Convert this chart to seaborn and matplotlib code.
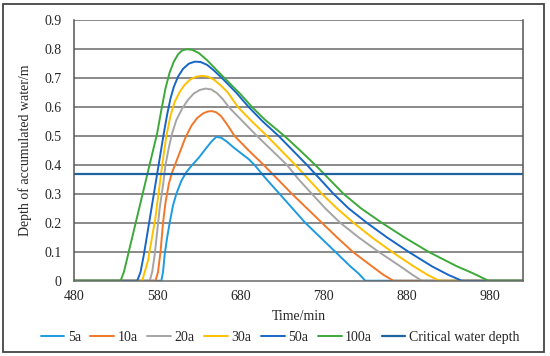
import pandas as pd
import seaborn as sns
import matplotlib.pyplot as plt
from matplotlib.patches import Rectangle

# (time/min, depth/m) for each return period
t_5a = [480, 585, 587, 589, 592, 595, 599, 603, 609, 615, 622, 630, 638, 645, 651, 657, 664, 672, 681, 690,
        697, 710, 724, 741, 758, 776, 794, 812, 822, 830, 1020]
d_5a = [0, 0, 0.03, 0.09, 0.15, 0.20, 0.26, 0.30, 0.345, 0.375, 0.40, 0.425, 0.455, 0.48, 0.497, 0.494, 0.48,
        0.46, 0.44, 0.42, 0.40, 0.355, 0.31, 0.255, 0.20, 0.15, 0.10, 0.05, 0.025, 0, 0]

t_10a = [480, 578, 581, 584, 587, 590, 594, 598, 602, 608, 614, 621, 628, 635, 641, 646, 651, 657, 664, 673,
         690, 708, 725, 742, 760, 778, 796, 815, 838, 852, 864, 1020]
d_10a = [0, 0, 0.03, 0.10, 0.20, 0.27, 0.335, 0.375, 0.405, 0.45, 0.495, 0.535, 0.562, 0.578, 0.585, 0.586,
         0.582, 0.568, 0.54, 0.50, 0.45, 0.40, 0.35, 0.30, 0.25, 0.20, 0.15, 0.10, 0.05, 0.02, 0, 0]

t_20a = [480, 571, 574, 577, 580, 583, 587, 590, 594, 598, 603, 610, 617, 624, 631, 638, 645, 652, 659, 666,
         683, 700, 718, 736, 750, 766, 782, 800, 822, 846, 872, 887, 898, 1020]
d_20a = [0, 0, 0.03, 0.09, 0.17, 0.25, 0.33, 0.40, 0.46, 0.51, 0.555, 0.595, 0.625, 0.647, 0.659, 0.664,
         0.661, 0.648, 0.627, 0.60, 0.55, 0.50, 0.45, 0.40, 0.35, 0.30, 0.25, 0.20, 0.15, 0.10, 0.05, 0.02, 0, 0]

t_30a = [480, 562, 566, 569, 572, 575, 578, 582, 586, 591, 596, 601, 607, 613, 620, 627, 634, 641, 648, 656,
         665, 677, 694, 712, 729, 746, 762, 778, 796, 816, 838, 862, 888, 905, 919, 1020]
d_30a = [0, 0, 0.04, 0.07, 0.12, 0.17, 0.22, 0.31, 0.40, 0.50, 0.57, 0.618, 0.652, 0.677, 0.696, 0.705,
         0.708, 0.705, 0.695, 0.676, 0.65, 0.60, 0.55, 0.50, 0.45, 0.40, 0.35, 0.30, 0.25, 0.20, 0.15, 0.10,
         0.05, 0.02, 0, 0]

t_50a = [480, 556, 560, 564, 568, 572, 576, 580, 584, 588, 592, 596, 600, 605, 611, 618, 625, 632, 640, 648,
         658, 675, 690, 707, 726, 743, 760, 776, 792, 810, 832, 856, 882, 910, 930, 946, 1020]
d_50a = [0, 0, 0.03, 0.09, 0.16, 0.23, 0.30, 0.37, 0.44, 0.51, 0.575, 0.63, 0.67, 0.705, 0.732, 0.75,
         0.757, 0.756, 0.746, 0.727, 0.70, 0.65, 0.60, 0.55, 0.50, 0.45, 0.40, 0.35, 0.30, 0.25, 0.20, 0.15,
         0.10, 0.05, 0.02, 0, 0]

t_100a = [480, 536, 540, 545, 550, 555, 560, 565, 570, 575, 580, 585, 590, 595, 600, 605, 610, 616, 622, 630,
          640, 650, 661, 680, 694, 710, 733, 750, 770, 787, 804, 825, 850, 877, 906, 940, 960, 978, 1020]
d_100a = [0, 0, 0.03, 0.09, 0.15, 0.21, 0.27, 0.33, 0.39, 0.45, 0.51, 0.59, 0.665, 0.72, 0.757, 0.782,
          0.796, 0.80, 0.798, 0.787, 0.762, 0.732, 0.70, 0.645, 0.60, 0.555, 0.50, 0.455, 0.40, 0.35, 0.30,
          0.25, 0.20, 0.15, 0.10, 0.05, 0.025, 0, 0]

critical_depth = 0.37

series = {'5a': (t_5a, d_5a), '10a': (t_10a, d_10a), '20a': (t_20a, d_20a),
          '30a': (t_30a, d_30a), '50a': (t_50a, d_50a), '100a': (t_100a, d_100a)}
colors = {'5a': '#1E9BE0', '10a': '#F2772A', '20a': '#A5A5A5',
          '30a': '#FFC000', '50a': '#1766C6', '100a': '#3DA93A'}

rows = []
for name, (ts, ds) in series.items():
    for t, d in zip(ts, ds):
        rows.append([name, t, d])
df = pd.DataFrame(rows, columns=['period', 'time', 'depth'])

sns.set_style('white')
plt.rcParams['font.family'] = ['Liberation Serif', 'DejaVu Serif']
fontsize = 10

fig = plt.figure(figsize=(5.5, 3.56), dpi=100)
ax = fig.add_axes([0.1345, 0.2115, 0.817, 0.7315])

for y in [0.1 * i for i in range(1, 10)]:
    ax.axhline(y, color='#6a6a6a', linewidth=1.1, zorder=0)

sns.lineplot(data=df, x='time', y='depth', hue='period', palette=colors, estimator=None,
             sort=False, linewidth=1.4, ax=ax)
ax.axhline(critical_depth, color='#1F63A0', linewidth=1.6, label='Critical water depth')

ax.set_xlim(480, 1020)
ax.set_ylim(0, 0.9)
ax.set_xticks([480, 580, 680, 780, 880, 980])
ax.set_yticks([0.1 * i for i in range(10)])
ax.set_yticklabels(['0'] + ['%.1f' % (0.1 * i) for i in range(1, 10)])
ax.tick_params(axis='y', length=0, labelsize=fontsize, pad=9)
ax.tick_params(axis='x', length=0, labelsize=fontsize, pad=7)

for s in ['left', 'right']:
    ax.spines[s].set_color('#555555')
    ax.spines[s].set_linewidth(1.1)
ax.spines['top'].set_visible(False)
ax.spines['bottom'].set_color('#6a6a6a')
ax.spines['bottom'].set_linewidth(1.1)

ax.set_xlabel('Time/min', fontsize=fontsize)
ax.xaxis.set_label_coords(0.5, -0.138)
ax.xaxis.label.set_va('center')
ax.set_ylabel('Depth of accumulated water/m', fontsize=fontsize)
ax.yaxis.set_label_coords(-0.109, 0.5)
ax.yaxis.label.set_va('center')

handles, labels = ax.get_legend_handles_labels()
ax.legend().remove()
fig.legend(handles, labels, loc='center', bbox_to_anchor=(0.509, 0.053), ncol=7, frameon=False,
           fontsize=fontsize, handlelength=1.7, handletextpad=0.25, columnspacing=0.7, borderaxespad=0,
           borderpad=0)

fig.patches.append(Rectangle((0.0055, 0.0112), 0.9836, 0.9775, transform=fig.transFigure, fill=False,
                             edgecolor='#444444', linewidth=1.3))

plt.savefig('out.png', dpi=100)
